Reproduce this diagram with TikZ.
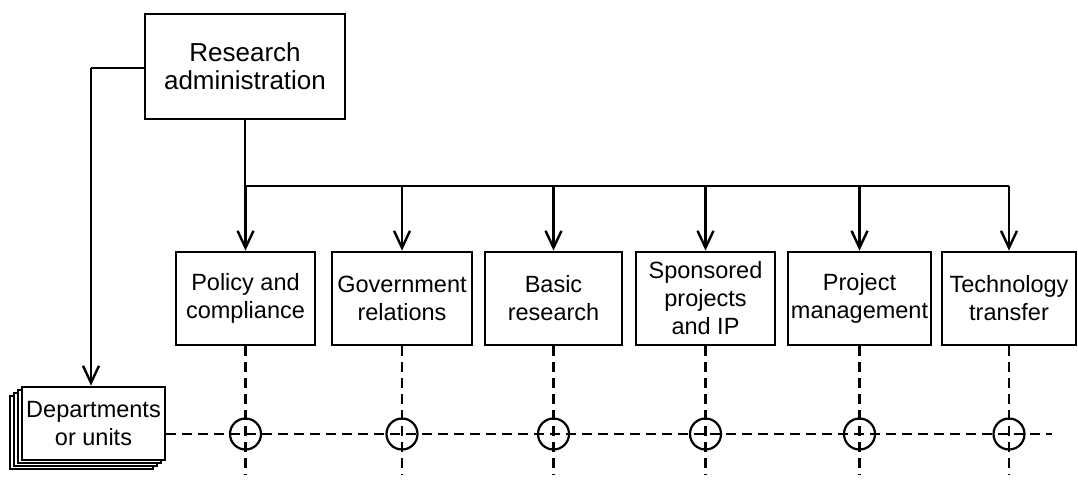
\documentclass[tikz,border=0pt]{standalone}
\usepackage{fontspec}
\setmainfont{Liberation Sans}
\usetikzlibrary{arrows.meta}
\begin{document}
\begin{tikzpicture}[x=1pt,y=-1pt,
  font=\fontsize{23.5}{28}\selectfont,
  box/.style={draw, line width=2.8pt, rectangle, inner sep=0pt, align=center,
              minimum height=93pt, fill=white},
  sheet/.style={draw, line width=1.3pt, fill=white},
  link/.style={line width=2.4pt},
  arr/.style={link, -{Straight Barb[length=17pt, width=16pt, line width=2.4pt]}},
  dashline/.style={line width=2.2pt, dash pattern=on 10pt off 6pt},
  joint/.style={draw, circle, line width=2.2pt, minimum size=31pt, inner sep=0pt}]
\useasboundingbox (0,0) rectangle (1078,479);

% head of the organisation
\node[box, minimum width=200pt, minimum height=105pt,
      font=\fontsize{26}{28}\selectfont] (head) at (245,66.5)
  {Research\\administration};

% functional offices
\node[box, minimum width=139pt] (pol)  at (245.5,298.5) {Policy and\\compliance};
\node[box, minimum width=140pt] (gov)  at (402,298.5)   {Government\\relations};
\node[box, minimum width=137pt] (bas)  at (553.5,298.5) {Basic\\research};
\node[box, minimum width=139pt] (spo)  at (705.5,298.5) {Sponsored\\projects\\and IP};
\node[box, minimum width=143pt] (pro)  at (859.5,298.5) {Project\\management};
\node[box, minimum width=134pt] (tec)  at (1009,298.5)  {Technology\\transfer};

% stacked sheets behind the departments box
\draw[sheet] (10,396) rectangle (153,469);
\draw[sheet] (14,393) rectangle (157,466);
\draw[sheet] (18,390) rectangle (161,463);
\node[box, minimum width=143pt, minimum height=73pt] (dep) at (93.5,423.5)
  {Departments\\or units};

% distribution bus
\coordinate (bus) at (245,186);
\draw[link] (head.south) -- (head.south |- bus) -- (tec.north |- bus);
\foreach \n in {pol,gov,bas,spo,pro,tec}
  \draw[arr] (\n.north |- bus) -- (\n.north);

% line down to the departments
\coordinate (side) at (91,68);
\draw[link] (head.west |- side) -- (side);
\draw[arr] (side) -- (side |- dep.north);

% matrix links between departments and offices
\coordinate (mrow) at (0,434);
\coordinate (mend) at (1052,434);
\draw[dashline] (dep.east |- mrow) -- (mend);
\foreach \n in {pol,gov,bas,spo,pro,tec}{
  \node[joint] (j\n) at (\n.south |- mrow) {};
  \draw[dashline] (\n.south) -- ([yshift=-41pt]j\n.center);
}
\end{tikzpicture}
\end{document}
